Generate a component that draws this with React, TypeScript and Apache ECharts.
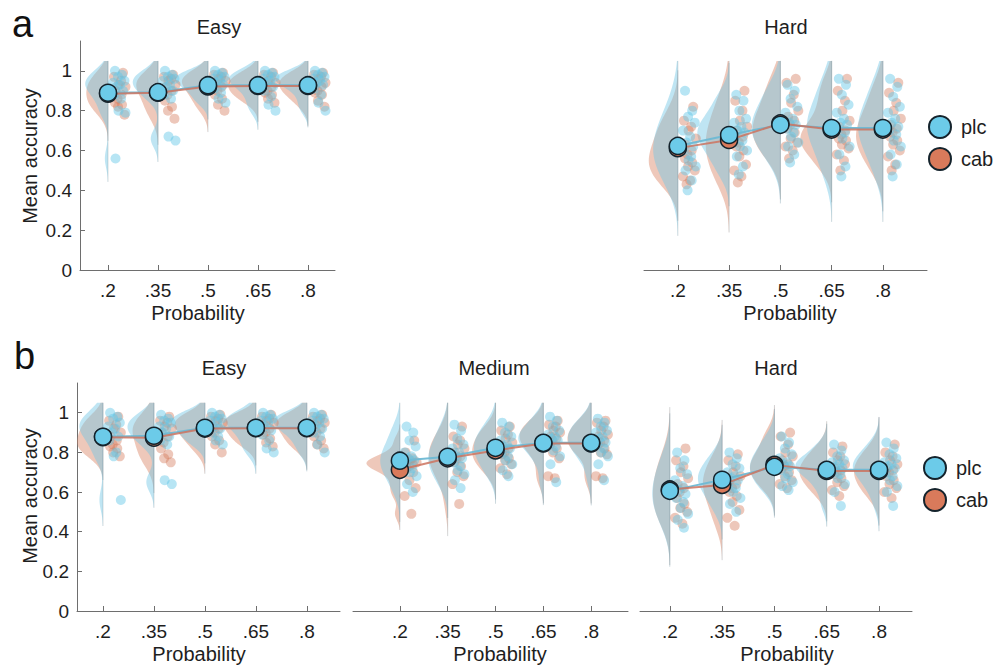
import React, { useEffect, useRef } from 'react';
import * as echarts from 'echarts';

// ---------- data ----------
const PROBS = ['.2', '.35', '.5', '.65', '.8'];
const Y_TICKS = [0, 0.2, 0.4, 0.6, 0.8, 1];
const JITTER = [0.14, 0.28, 0.2, 0.33, 0.1, 0.24, 0.17, 0.3, 0.12, 0.26, 0.21, 0.35, 0.15, 0.27, 0.19];

// a – Easy
const A_EASY_PLC_MEAN = [0.89, 0.893, 0.928, 0.928, 0.928];
const A_EASY_CAB_MEAN = [0.885, 0.89, 0.922, 0.924, 0.924];
const A_EASY_PLC = [
  [1.0, 0.98, 0.97, 0.95, 0.94, 0.93, 0.92, 0.9, 0.88, 0.86, 0.8, 0.79, 0.56],
  [1.0, 0.98, 0.97, 0.96, 0.95, 0.93, 0.92, 0.9, 0.88, 0.86, 0.67, 0.65],
  [1.0, 0.99, 0.98, 0.97, 0.96, 0.95, 0.94, 0.93, 0.91, 0.89, 0.86, 0.84],
  [1.0, 0.99, 0.98, 0.97, 0.96, 0.95, 0.94, 0.92, 0.9, 0.87, 0.83, 0.8],
  [1.0, 0.99, 0.98, 0.97, 0.96, 0.95, 0.94, 0.93, 0.91, 0.88, 0.84, 0.8],
];
const A_EASY_CAB = [
  [0.99, 0.97, 0.95, 0.93, 0.92, 0.9, 0.88, 0.86, 0.84, 0.83, 0.82, 0.78],
  [0.98, 0.97, 0.96, 0.95, 0.93, 0.92, 0.9, 0.88, 0.85, 0.82, 0.8, 0.76],
  [0.99, 0.98, 0.97, 0.96, 0.95, 0.94, 0.92, 0.9, 0.88, 0.86, 0.83, 0.8],
  [0.99, 0.98, 0.97, 0.95, 0.94, 0.93, 0.92, 0.9, 0.89, 0.88, 0.86, 0.84],
  [0.99, 0.98, 0.97, 0.96, 0.94, 0.93, 0.92, 0.9, 0.89, 0.88, 0.85, 0.82],
];

// a – Hard
const A_HARD_PLC_MEAN = [0.623, 0.678, 0.729, 0.713, 0.713];
const A_HARD_CAB_MEAN = [0.612, 0.653, 0.736, 0.705, 0.705];
const A_HARD_PLC = [
  [0.9, 0.8, 0.77, 0.74, 0.7, 0.67, 0.64, 0.62, 0.6, 0.57, 0.55, 0.52, 0.5, 0.45, 0.4],
  [0.88, 0.85, 0.8, 0.76, 0.74, 0.72, 0.7, 0.69, 0.67, 0.65, 0.62, 0.6, 0.57, 0.52, 0.48],
  [0.93, 0.9, 0.86, 0.82, 0.79, 0.76, 0.74, 0.73, 0.71, 0.69, 0.67, 0.64, 0.62, 0.58, 0.54],
  [0.96, 0.93, 0.88, 0.83, 0.79, 0.76, 0.74, 0.73, 0.71, 0.69, 0.66, 0.62, 0.58, 0.52, 0.47],
  [0.96, 0.92, 0.87, 0.82, 0.79, 0.76, 0.74, 0.72, 0.7, 0.68, 0.65, 0.62, 0.58, 0.53, 0.47],
];
const A_HARD_CAB = [
  [0.82, 0.75, 0.72, 0.7, 0.66, 0.63, 0.6, 0.58, 0.56, 0.54, 0.52, 0.5, 0.47, 0.45, 0.43],
  [0.9, 0.85, 0.8, 0.75, 0.72, 0.7, 0.67, 0.64, 0.62, 0.6, 0.57, 0.53, 0.5, 0.47, 0.44],
  [0.96, 0.94, 0.88, 0.84, 0.8, 0.77, 0.75, 0.73, 0.71, 0.69, 0.66, 0.64, 0.62, 0.6, 0.56],
  [0.96, 0.9, 0.85, 0.8, 0.75, 0.72, 0.7, 0.68, 0.66, 0.65, 0.63, 0.61, 0.58, 0.55, 0.5],
  [0.94, 0.89, 0.84, 0.8, 0.76, 0.73, 0.71, 0.69, 0.67, 0.65, 0.63, 0.6, 0.57, 0.53, 0.5],
];

// b – Easy
const B_EASY_PLC_MEAN = [0.879, 0.884, 0.924, 0.924, 0.924];
const B_EASY_CAB_MEAN = [0.877, 0.874, 0.92, 0.922, 0.922];
const B_EASY_PLC = [
  [1.0, 0.98, 0.97, 0.95, 0.93, 0.92, 0.9, 0.88, 0.86, 0.8, 0.78, 0.56],
  [0.99, 0.97, 0.96, 0.95, 0.93, 0.92, 0.9, 0.88, 0.86, 0.84, 0.66, 0.64],
  [1.0, 0.99, 0.98, 0.97, 0.96, 0.95, 0.93, 0.92, 0.9, 0.88, 0.86, 0.84],
  [1.0, 0.99, 0.98, 0.97, 0.96, 0.95, 0.93, 0.91, 0.89, 0.86, 0.82, 0.8],
  [1.0, 0.99, 0.98, 0.97, 0.96, 0.95, 0.93, 0.92, 0.9, 0.88, 0.84, 0.8],
];
const B_EASY_CAB = [
  [0.98, 0.96, 0.94, 0.92, 0.9, 0.88, 0.86, 0.84, 0.83, 0.82, 0.8, 0.78],
  [0.98, 0.96, 0.95, 0.93, 0.92, 0.9, 0.88, 0.85, 0.82, 0.79, 0.77, 0.75],
  [0.99, 0.98, 0.97, 0.96, 0.95, 0.93, 0.92, 0.9, 0.88, 0.86, 0.84, 0.8],
  [0.99, 0.98, 0.97, 0.96, 0.95, 0.94, 0.92, 0.9, 0.89, 0.87, 0.85, 0.83],
  [0.99, 0.98, 0.97, 0.96, 0.95, 0.94, 0.92, 0.9, 0.88, 0.86, 0.84, 0.82],
];

// b – Medium
const B_MED_PLC_MEAN = [0.758, 0.778, 0.823, 0.848, 0.848];
const B_MED_CAB_MEAN = [0.712, 0.77, 0.81, 0.845, 0.845];
const B_MED_PLC = [
  [0.93, 0.9, 0.86, 0.83, 0.8, 0.78, 0.77, 0.76, 0.74, 0.72, 0.7, 0.68, 0.64, 0.6],
  [0.94, 0.91, 0.87, 0.84, 0.82, 0.8, 0.78, 0.77, 0.75, 0.73, 0.71, 0.69, 0.66, 0.62],
  [0.95, 0.93, 0.9, 0.88, 0.86, 0.84, 0.83, 0.82, 0.8, 0.78, 0.76, 0.74, 0.71, 0.68],
  [0.98, 0.96, 0.93, 0.91, 0.89, 0.88, 0.87, 0.86, 0.85, 0.83, 0.81, 0.78, 0.74, 0.65],
  [0.97, 0.95, 0.93, 0.91, 0.9, 0.88, 0.87, 0.85, 0.84, 0.82, 0.8, 0.78, 0.74, 0.66],
];
const B_MED_CAB = [
  [0.86, 0.8, 0.77, 0.76, 0.75, 0.75, 0.74, 0.73, 0.72, 0.7, 0.66, 0.62, 0.58, 0.49],
  [0.93, 0.88, 0.86, 0.84, 0.82, 0.8, 0.78, 0.77, 0.75, 0.73, 0.7, 0.68, 0.64, 0.54],
  [0.93, 0.91, 0.89, 0.87, 0.85, 0.83, 0.82, 0.8, 0.79, 0.77, 0.76, 0.74, 0.72, 0.69],
  [0.96, 0.94, 0.93, 0.91, 0.9, 0.88, 0.87, 0.86, 0.84, 0.82, 0.8, 0.77, 0.68, 0.67],
  [0.96, 0.95, 0.93, 0.91, 0.89, 0.88, 0.86, 0.85, 0.84, 0.82, 0.8, 0.79, 0.68, 0.67],
];

// b – Hard
const B_HARD_PLC_MEAN = [0.606, 0.662, 0.727, 0.712, 0.712];
const B_HARD_CAB_MEAN = [0.613, 0.636, 0.737, 0.706, 0.706];
const B_HARD_PLC = [
  [0.8, 0.76, 0.72, 0.69, 0.66, 0.63, 0.61, 0.59, 0.57, 0.55, 0.52, 0.49, 0.46, 0.42],
  [0.8, 0.77, 0.74, 0.72, 0.7, 0.68, 0.67, 0.66, 0.64, 0.62, 0.6, 0.57, 0.54, 0.5],
  [0.88, 0.85, 0.82, 0.79, 0.77, 0.75, 0.74, 0.73, 0.71, 0.69, 0.67, 0.65, 0.63, 0.61],
  [0.84, 0.81, 0.78, 0.76, 0.75, 0.74, 0.73, 0.72, 0.71, 0.69, 0.67, 0.64, 0.6, 0.53],
  [0.85, 0.82, 0.79, 0.77, 0.75, 0.74, 0.73, 0.72, 0.7, 0.68, 0.66, 0.63, 0.6, 0.53],
];
const B_HARD_CAB = [
  [0.82, 0.76, 0.73, 0.7, 0.67, 0.64, 0.62, 0.6, 0.57, 0.54, 0.52, 0.5, 0.47, 0.44],
  [0.79, 0.76, 0.73, 0.7, 0.68, 0.66, 0.64, 0.62, 0.6, 0.58, 0.55, 0.51, 0.47, 0.43],
  [0.9, 0.88, 0.84, 0.8, 0.78, 0.76, 0.74, 0.73, 0.72, 0.7, 0.68, 0.66, 0.64, 0.62],
  [0.83, 0.8, 0.78, 0.76, 0.74, 0.72, 0.71, 0.7, 0.69, 0.67, 0.65, 0.63, 0.61, 0.58],
  [0.84, 0.8, 0.78, 0.76, 0.74, 0.72, 0.71, 0.7, 0.68, 0.66, 0.64, 0.62, 0.6, 0.57],
];

// ---------- style ----------
const FONT = 'Liberation Sans, Arial, Helvetica, sans-serif';
const VIOLIN_PLC = 'rgba(115,198,228,0.46)';
const VIOLIN_CAB = 'rgba(218,135,105,0.46)';
const DOT_PLC = 'rgba(100,198,232,0.58)';
const DOT_CAB = 'rgba(212,120,88,0.52)';
const MEAN_PLC = '#6ccbe9';
const MEAN_CAB = '#d97a5b';
const EDGE = '#14232c';
const LINE_PLC = 'rgba(110,185,212,0.95)';
const LINE_CAB = 'rgba(205,115,95,0.85)';
const AXIS = '#6e6e6e';
const TEXT = '#1e1e1e';

const PANELS = [
  { left: 80, top: 41, width: 255, height: 229, xMin: 0.44, xMax: 5.54, showY: true, vw: 0.66, plc: A_EASY_PLC, cab: A_EASY_CAB, plcMean: A_EASY_PLC_MEAN, cabMean: A_EASY_CAB_MEAN },
  { left: 644, top: 41, width: 283, height: 229, xMin: 0.34, xMax: 5.86, showY: false, vw: 0.62, plc: A_HARD_PLC, cab: A_HARD_CAB, plcMean: A_HARD_PLC_MEAN, cabMean: A_HARD_CAB_MEAN },
  { left: 77, top: 383, width: 263, height: 228, xMin: 0.49, xMax: 5.65, showY: true, vw: 0.66, plc: B_EASY_PLC, cab: B_EASY_CAB, plcMean: B_EASY_PLC_MEAN, cabMean: B_EASY_CAB_MEAN },
  { left: 353, top: 383, width: 275, height: 228, xMin: 0.02, xMax: 5.77, showY: false, vw: 0.7, plc: B_MED_PLC, cab: B_MED_CAB, plcMean: B_MED_PLC_MEAN, cabMean: B_MED_CAB_MEAN },
  { left: 640, top: 383, width: 272, height: 228, xMin: 0.43, xMax: 5.63, showY: false, vw: 0.6, plc: B_HARD_PLC, cab: B_HARD_CAB, plcMean: B_HARD_PLC_MEAN, cabMean: B_HARD_CAB_MEAN },
];

// ---------- helpers (kernel density, as the raincloud does) ----------
function median(a: number[]) {
  const s = [...a].sort((p, q) => p - q);
  const m = Math.floor(s.length / 2);
  return s.length % 2 ? s[m] : (s[m - 1] + s[m]) / 2;
}
function bandwidth(v: number[]) {
  const md = median(v);
  const mad = median(v.map((x) => Math.abs(x - md)));
  const sig = mad / 0.6745;
  return Math.max(0.022, sig * Math.pow(4 / (3 * v.length), 0.2));
}
function kde(v: number[]) {
  const h = bandwidth(v);
  const lo = Math.min(...v) - 2.5 * h;
  const hi = Math.min(Math.max(...v) + 2.5 * h, 1.05);
  const n = 70;
  const pts: number[][] = [];
  for (let k = 0; k <= n; k++) {
    const y = lo + ((hi - lo) * k) / n;
    let d = 0;
    for (const x of v) d += Math.exp(-0.5 * ((y - x) / h) ** 2);
    d /= v.length * h * Math.sqrt(2 * Math.PI);
    pts.push([y, d]);
  }
  return { lo, hi, pts };
}

function buildOption() {
  const grid: any[] = [];
  const xAxis: any[] = [];
  const yAxis: any[] = [];
  const series: any[] = [];

  PANELS.forEach((p, pi) => {
    grid.push({ left: p.left, top: p.top, width: p.width, height: p.height, containLabel: false });
    xAxis.push({
      type: 'value', gridIndex: pi, min: p.xMin, max: p.xMax,
      axisLine: { show: true, lineStyle: { color: AXIS, width: 1 } },
      axisTick: { show: true, inside: true, length: 5, customValues: [1, 2, 3, 4, 5], lineStyle: { color: AXIS } },
      axisLabel: {
        show: true, customValues: [1, 2, 3, 4, 5], margin: 11, color: TEXT, fontSize: 19, fontFamily: FONT,
        formatter: (v: number) => PROBS[Math.round(v) - 1] ?? '',
      },
      splitLine: { show: false },
    });
    yAxis.push({
      type: 'value', gridIndex: pi, min: 0, max: 1.15, show: p.showY,
      axisLine: { show: true, lineStyle: { color: AXIS, width: 1 } },
      axisTick: { show: true, inside: true, length: 5, customValues: Y_TICKS, lineStyle: { color: AXIS } },
      axisLabel: {
        show: true, customValues: Y_TICKS, margin: 8, color: TEXT, fontSize: 19, fontFamily: FONT,
        formatter: (v: number) => (v === 0 ? '0' : v === 1 ? '1' : String(v)),
      },
      splitLine: { show: false },
    });

    // violins
    const shapes: any[] = [];
    let maxD = 0;
    const dens: any[] = [];
    for (let i = 0; i < 5; i++) {
      const c = kde(p.cab[i]);
      const u = kde(p.plc[i]);
      dens.push([c, u]);
      for (const q of [c, u]) for (const pt of q.pts) maxD = Math.max(maxD, pt[1]);
    }
    for (let i = 0; i < 5; i++) {
      const [c, u] = dens[i];
      shapes.push({ x: i + 1, lo: c.lo, hi: c.hi, pts: c.pts.map((q: number[]) => [q[0], (q[1] / maxD) * p.vw]), color: VIOLIN_CAB });
      shapes.push({ x: i + 1, lo: u.lo, hi: u.hi, pts: u.pts.map((q: number[]) => [q[0], (q[1] / maxD) * p.vw]), color: VIOLIN_PLC });
    }
    series.push({
      type: 'custom', xAxisIndex: pi, yAxisIndex: pi, z: 1, silent: true,
      data: shapes.map((s) => [s.x, s.lo, s.hi]),
      renderItem: (params: any, api: any) => {
        const s = shapes[params.dataIndex];
        const points: number[][] = [api.coord([s.x, s.lo])];
        for (const [y, w] of s.pts) points.push(api.coord([s.x - w, y]));
        points.push(api.coord([s.x, s.hi]));
        const a = api.coord([s.x, s.lo]);
        const b = api.coord([s.x, s.hi]);
        return {
          type: 'group',
          children: [
            { type: 'polygon', shape: { points }, style: { fill: s.color, stroke: null } },
            { type: 'line', shape: { x1: a[0], y1: a[1], x2: b[0], y2: b[1] }, style: { stroke: 'rgba(120,140,148,0.3)', lineWidth: 1 } },
          ],
        };
      },
    });

    // dots
    const cabDots: number[][] = [];
    const plcDots: number[][] = [];
    for (let i = 0; i < 5; i++) {
      p.cab[i].forEach((v: number, j: number) => cabDots.push([i + 1 + JITTER[(j + 7) % JITTER.length], v]));
      p.plc[i].forEach((v: number, j: number) => plcDots.push([i + 1 + JITTER[j % JITTER.length], v]));
    }
    series.push({ type: 'scatter', xAxisIndex: pi, yAxisIndex: pi, z: 2, symbolSize: 10, data: cabDots, itemStyle: { color: DOT_CAB }, silent: true });
    series.push({ type: 'scatter', xAxisIndex: pi, yAxisIndex: pi, z: 2, symbolSize: 10, data: plcDots, itemStyle: { color: DOT_PLC }, silent: true });

    // mean lines (cab line drawn over plc line)
    const cabM = p.cabMean.map((v: number, i: number) => [i + 1, v]);
    const plcM = p.plcMean.map((v: number, i: number) => [i + 1, v]);
    series.push({ type: 'line', xAxisIndex: pi, yAxisIndex: pi, z: 3, data: plcM, showSymbol: false, symbol: 'none', lineStyle: { color: LINE_PLC, width: 2 }, silent: true });
    series.push({ type: 'line', xAxisIndex: pi, yAxisIndex: pi, z: 3, data: cabM, showSymbol: false, symbol: 'none', lineStyle: { color: LINE_CAB, width: 2 }, silent: true });
    series.push({ type: 'scatter', xAxisIndex: pi, yAxisIndex: pi, z: 4, symbolSize: 17, data: cabM, itemStyle: { color: MEAN_CAB, borderColor: EDGE, borderWidth: 1.5, opacity: 1 }, silent: true });
    series.push({ type: 'scatter', xAxisIndex: pi, yAxisIndex: pi, z: 5, symbolSize: 17, data: plcM, itemStyle: { color: MEAN_PLC, borderColor: EDGE, borderWidth: 1.5, opacity: 1 }, silent: true });
  });

  const txt = (text: string, x: number, y: number, size: number) => ({
    type: 'text', x, y,
    style: { text, fill: TEXT, font: `${size}px ${FONT}`, align: 'center', verticalAlign: 'middle' },
  });

  const graphic: any[] = [
    { type: 'text', x: 12, y: 24, style: { text: 'a', fill: '#111', font: `38px ${FONT}`, align: 'left', verticalAlign: 'middle' } },
    { type: 'text', x: 14, y: 356, style: { text: 'b', fill: '#111', font: `38px ${FONT}`, align: 'left', verticalAlign: 'middle' } },
    txt('Easy', 219, 27, 20),
    txt('Hard', 786, 27, 20),
    txt('Easy', 224, 368, 20),
    txt('Medium', 494, 368, 20),
    txt('Hard', 776, 368, 20),
    txt('Probability', 198, 313, 20),
    txt('Probability', 790, 313, 20),
    txt('Probability', 199, 654, 20),
    txt('Probability', 500, 654, 20),
    txt('Probability', 787, 654, 20),
    { type: 'text', x: 30, y: 156, rotation: Math.PI / 2, style: { text: 'Mean accuracy', fill: TEXT, font: `20px ${FONT}`, align: 'center', verticalAlign: 'middle' } },
    { type: 'text', x: 30, y: 496, rotation: Math.PI / 2, style: { text: 'Mean accuracy', fill: TEXT, font: `20px ${FONT}`, align: 'center', verticalAlign: 'middle' } },
    // legends
    { type: 'circle', shape: { cx: 940, cy: 127, r: 11 }, style: { fill: MEAN_PLC, stroke: EDGE, lineWidth: 2 } },
    { type: 'circle', shape: { cx: 940, cy: 159, r: 11 }, style: { fill: MEAN_CAB, stroke: EDGE, lineWidth: 2 } },
    { type: 'text', x: 961, y: 127, style: { text: 'plc', fill: TEXT, font: `20px ${FONT}`, align: 'left', verticalAlign: 'middle' } },
    { type: 'text', x: 961, y: 159, style: { text: 'cab', fill: TEXT, font: `20px ${FONT}`, align: 'left', verticalAlign: 'middle' } },
    { type: 'circle', shape: { cx: 935, cy: 468, r: 11 }, style: { fill: MEAN_PLC, stroke: EDGE, lineWidth: 2 } },
    { type: 'circle', shape: { cx: 935, cy: 500, r: 11 }, style: { fill: MEAN_CAB, stroke: EDGE, lineWidth: 2 } },
    { type: 'text', x: 956, y: 468, style: { text: 'plc', fill: TEXT, font: `20px ${FONT}`, align: 'left', verticalAlign: 'middle' } },
    { type: 'text', x: 956, y: 500, style: { text: 'cab', fill: TEXT, font: `20px ${FONT}`, align: 'left', verticalAlign: 'middle' } },
  ];

  return { animation: false, backgroundColor: '#ffffff', grid, xAxis, yAxis, series, graphic };
}

export default function App() {
  const ref = useRef<HTMLDivElement>(null);
  useEffect(() => {
    if (!ref.current) return;
    const chart = echarts.init(ref.current, null, { renderer: 'svg' });
    chart.setOption(buildOption() as any);
    return () => chart.dispose();
  }, []);
  return <div ref={ref} style={{ position: 'fixed', left: 0, top: 0, width: 1005, height: 668, background: '#fff' }} />;
}
